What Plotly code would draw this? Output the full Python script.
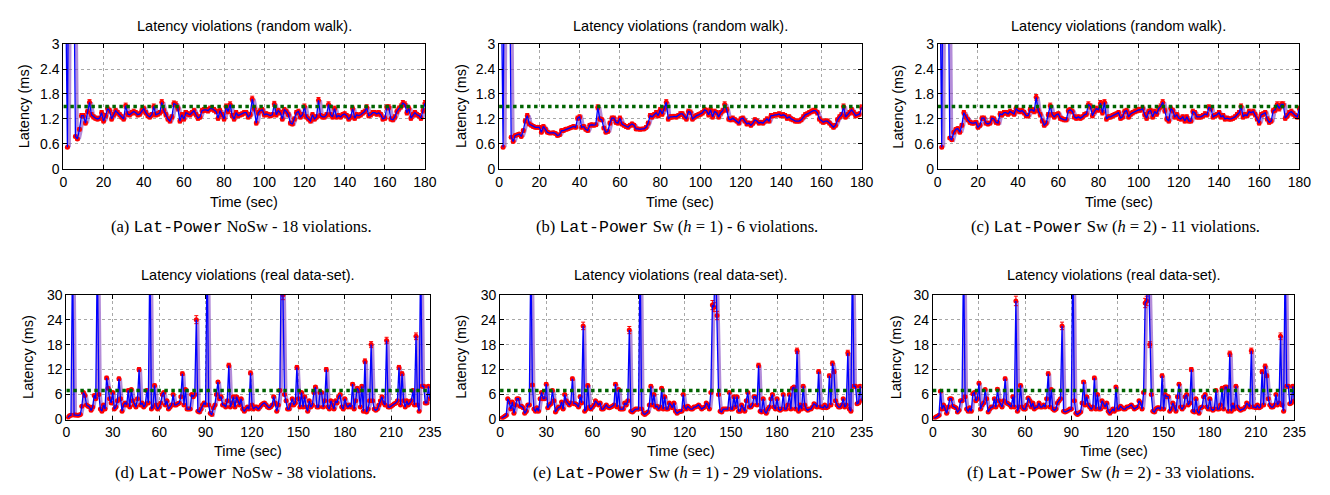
import plotly.graph_objects as go

# ---------------- data ----------------
time_rw = list(range(1, 181))      # seconds, random-walk experiments
time_real = list(range(1, 236))    # seconds, real data-set experiments

lat_a = [5.0, 0.52, 9.0, 9.0, 6.0, 0.78, 0.72, 0.95, 1.28, 1.28,
         1.10, 1.38, 1.60, 1.30, 1.25, 1.22, 1.20, 1.22, 1.35, 1.15,
         1.28, 1.45, 1.40, 1.20, 1.30, 1.40, 1.35, 1.30, 1.25, 1.20,
         1.52, 1.32, 1.30, 1.35, 1.38, 1.35, 1.30, 1.32, 1.40, 1.45,
         1.35, 1.28, 1.25, 1.30, 1.50, 1.30, 1.32, 1.35, 1.60, 1.40,
         1.30, 1.20, 1.15, 1.25, 1.57, 1.55, 1.45, 1.15, 1.30, 1.20,
         1.35, 1.32, 1.30, 1.35, 1.40, 1.30, 1.22, 1.25, 1.40, 1.42,
         1.42, 1.40, 1.45, 1.45, 1.42, 1.38, 1.22, 1.40, 1.30, 1.20,
         1.50, 1.38, 1.55, 1.28, 1.20, 1.35, 1.28, 1.30, 1.32, 1.35,
         1.35, 1.25, 1.30, 1.68, 1.45, 1.10, 1.35, 1.40, 1.42, 1.30,
         1.32, 1.30, 1.28, 1.30, 1.56, 1.30, 1.40, 1.35, 1.20, 1.42,
         1.38, 1.30, 1.10, 1.08, 1.20, 1.35, 1.38, 1.25, 1.30, 1.50,
         1.25, 1.20, 1.15, 1.30, 1.20, 1.25, 1.65, 1.28, 1.25, 1.25,
         1.30, 1.55, 1.30, 1.25, 1.45, 1.25, 1.28, 1.25, 1.30, 1.32,
         1.28, 1.20, 1.25, 1.45, 1.22, 1.30, 1.28, 1.30, 1.35, 1.38,
         1.48, 1.28, 1.30, 1.35, 1.35, 1.32, 1.35, 1.30, 1.20, 1.22,
         1.48, 1.48, 1.20, 1.18, 1.25, 1.38, 1.45, 1.50, 1.58, 1.55,
         1.35, 1.45, 1.22, 1.30, 1.35, 1.30, 1.28, 1.22, 1.40, 1.58]

lat_b = [5.0, 0.52, 9.0, 9.0, 6.0, 0.76, 0.66, 0.80, 0.82, 0.84,
         0.78, 0.92, 1.15, 1.28, 1.08, 1.05, 1.02, 1.00, 1.00, 1.00,
         0.88, 1.02, 0.95, 0.88, 0.86, 0.86, 0.87, 0.85, 0.80, 0.82,
         0.92, 0.92, 0.95, 0.96, 0.98, 1.00, 1.02, 1.00, 1.22, 1.25,
         1.00, 1.02, 0.95, 0.92, 1.05, 1.06, 1.05, 1.06, 1.48, 1.20,
         1.18, 0.98, 0.88, 0.90, 1.10, 1.22, 1.22, 1.12, 1.10, 1.22,
         1.08, 1.05, 1.02, 1.00, 1.05, 1.08, 1.05, 0.96, 0.96, 0.95,
         0.96, 0.96, 1.00, 1.10, 1.28, 1.25, 1.30, 1.35, 1.28, 1.42,
         1.32, 1.45, 1.60, 1.20, 1.25, 1.25, 1.26, 1.25, 1.28, 1.32,
         1.32, 1.25, 1.20, 1.38, 1.36, 1.20, 1.25, 1.28, 1.30, 1.32,
         1.35, 1.42, 1.40, 1.30, 1.42, 1.25, 1.38, 1.35, 1.25, 1.35,
         1.40, 1.55, 1.42, 1.20, 1.18, 1.22, 1.18, 1.15, 1.10, 1.20,
         1.22, 1.15, 1.08, 1.10, 1.05, 1.10, 1.18, 1.15, 1.10, 1.12,
         1.10, 1.15, 1.20, 1.15, 1.28, 1.28, 1.30, 1.30, 1.32, 1.28,
         1.30, 1.28, 1.22, 1.25, 1.20, 1.18, 1.15, 1.15, 1.15, 1.18,
         1.25, 1.30, 1.32, 1.35, 1.38, 1.40, 1.40, 1.35, 1.20, 1.15,
         1.12, 1.15, 1.15, 1.10, 1.05, 1.00, 1.05, 1.18, 1.25, 1.30,
         1.50, 1.25, 1.30, 1.35, 1.42, 1.35, 1.28, 1.30, 1.32, 1.48]

lat_c = [5.0, 0.52, 9.0, 9.0, 6.0, 0.74, 0.70, 0.88, 0.95, 0.97,
         0.88, 1.05, 1.35, 1.25, 1.18, 1.12, 1.10, 1.10, 1.12, 1.00,
         1.05, 1.22, 1.22, 1.10, 1.08, 1.10, 1.22, 1.20, 1.12, 1.10,
         1.32, 1.30, 1.35, 1.35, 1.32, 1.38, 1.35, 1.32, 1.45, 1.40,
         1.38, 1.40, 1.35, 1.28, 1.28, 1.42, 1.42, 1.38, 1.72, 1.40,
         1.30, 1.15, 1.05, 1.10, 1.30, 1.52, 1.30, 1.25, 1.30, 1.32,
         1.22, 1.20, 1.18, 1.18, 1.40, 1.42, 1.38, 1.25, 1.22, 1.25,
         1.22, 1.25, 1.30, 1.32, 1.55, 1.50, 1.28, 1.38, 1.45, 1.42,
         1.58, 1.35, 1.60, 1.20, 1.25, 1.25, 1.28, 1.30, 1.32, 1.35,
         1.22, 1.25, 1.38, 1.40, 1.25, 1.32, 1.35, 1.38, 1.40, 1.42,
         1.42, 1.45, 1.30, 1.22, 1.38, 1.40, 1.25, 1.38, 1.32, 1.45,
         1.50, 1.60, 1.40, 1.20, 1.15, 1.45, 1.40, 1.25, 1.30, 1.22,
         1.20, 1.25, 1.15, 1.25, 1.15, 1.15, 1.38, 1.35, 1.25, 1.25,
         1.25, 1.28, 1.32, 1.30, 1.48, 1.45, 1.25, 1.28, 1.30, 1.35,
         1.25, 1.28, 1.20, 1.22, 1.20, 1.20, 1.22, 1.25, 1.30, 1.35,
         1.50, 1.25, 1.30, 1.28, 1.38, 1.35, 1.38, 1.30, 1.20, 1.10,
         1.30, 1.32, 1.35, 1.20, 1.12, 1.15, 1.40, 1.42, 1.55, 1.45,
         1.55, 1.55, 1.22, 1.28, 1.35, 1.38, 1.32, 1.28, 1.25, 1.45]

lat_d = [0.5, 0.9, 1.0, 40, 1.1, 1.1, 1.0, 1.0, 1.2, 3.2,
         6.5, 5.8, 3.5, 3.2, 3.0, 2.2, 3.0, 5.8, 5.0, 40,
         6.0, 2.5, 2.0, 3.5, 2.5, 10.0, 7.5, 5.0, 4.0, 6.5,
         2.5, 3.0, 4.5, 9.8, 5.0, 2.0, 3.5, 4.0, 3.5, 7.0,
         3.0, 7.2, 4.5, 3.5, 3.0, 5.0, 12.0, 3.5, 4.0, 3.0,
         3.5, 7.0, 4.0, 40, 2.5, 3.0, 8.2, 3.5, 2.5, 3.0,
         4.0, 6.0, 6.5, 3.5, 4.5, 2.5, 3.0, 3.5, 6.0, 3.5,
         3.5, 3.8, 4.0, 5.5, 11.0, 3.5, 7.2, 2.5, 2.5, 2.5,
         6.0, 5.5, 6.0, 24.0, 2.0, 1.8, 2.5, 3.5, 4.0, 3.5,
         40, 3.5, 1.5, 1.2, 2.8, 3.5, 6.0, 9.0, 5.0, 5.5,
         3.5, 3.5, 3.0, 4.5, 13.0, 3.0, 4.0, 5.5, 3.0, 5.5,
         4.5, 3.5, 5.0, 2.5, 2.0, 2.5, 3.0, 2.5, 11.2, 3.5,
         2.5, 3.0, 3.0, 2.5, 3.0, 3.5, 3.8, 4.0, 3.5, 3.0,
         2.8, 3.0, 3.5, 5.5, 4.0, 2.0, 3.5, 7.0, 40, 30.0,
         6.0, 4.5, 2.5, 2.5, 3.5, 5.0, 3.5, 4.0, 12.5, 5.0,
         3.0, 6.5, 3.0, 5.5, 3.0, 2.0, 4.5, 3.0, 3.5, 6.5,
         7.8, 3.0, 3.0, 6.5, 6.5, 3.0, 4.5, 12.0, 3.0, 2.5,
         4.5, 3.5, 2.5, 4.5, 4.0, 5.5, 6.0, 3.0, 2.5, 5.0,
         3.5, 3.0, 3.5, 3.0, 8.5, 2.5, 4.5, 7.5, 7.0, 3.0,
         8.0, 2.0, 14.0, 1.8, 2.5, 4.5, 18.0, 4.5, 2.5, 2.2,
         2.5, 3.5, 4.5, 5.5, 4.0, 3.5, 19.0, 3.0, 3.0, 3.2,
         3.5, 3.8, 4.0, 4.5, 12.5, 3.5, 11.0, 4.5, 3.0, 4.5,
         3.5, 4.0, 4.5, 7.0, 3.5, 20.0, 3.5, 2.0, 40, 8.0,
         8.0, 4.0, 4.0, 8.0, 5.0]

lat_e = [0.3, 0.5, 0.8, 1.0, 5.0, 4.2, 2.5, 4.2, 1.5, 3.5,
         5.0, 5.0, 3.2, 3.2, 2.8, 1.5, 2.0, 3.5, 3.5, 40,
         8.3, 2.5, 2.0, 2.8, 2.0, 5.0, 6.5, 5.0, 5.0, 8.5,
         2.8, 3.5, 3.8, 7.0, 4.5, 1.8, 2.5, 3.0, 3.0, 4.2,
         2.5, 6.0, 4.5, 4.0, 3.5, 4.0, 9.8, 3.8, 3.8, 3.5,
         3.0, 5.5, 4.0, 22.5, 2.0, 2.5, 8.2, 3.0, 2.5, 3.0,
         3.5, 4.5, 4.0, 3.5, 4.0, 2.5, 2.5, 3.0, 3.5, 3.0,
         2.8, 3.0, 3.2, 3.5, 8.5, 3.0, 7.2, 2.5, 2.5, 2.5,
         4.0, 3.5, 4.5, 21.5, 2.0, 1.8, 2.2, 2.5, 2.5, 2.5,
         40, 2.5, 1.5, 1.2, 1.5, 1.8, 3.5, 8.0, 3.5, 6.0,
         3.0, 3.2, 2.5, 3.0, 7.5, 2.5, 5.5, 2.5, 2.5, 4.0,
         3.5, 2.8, 4.0, 2.0, 1.5, 1.8, 2.0, 2.0, 6.0, 3.0,
         2.5, 3.2, 2.8, 2.5, 2.5, 3.0, 3.0, 3.2, 3.5, 3.0,
         2.5, 2.8, 3.0, 4.0, 3.5, 2.5, 6.5, 27.5, 27.0, 40,
         25.0, 6.0, 2.0, 1.8, 2.5, 2.5, 2.5, 2.5, 6.5, 2.5,
         2.5, 5.5, 3.0, 5.5, 2.0, 2.0, 3.5, 2.5, 2.0, 4.5,
         6.5, 3.0, 3.0, 3.5, 5.5, 5.5, 3.5, 13.0, 2.0, 1.8,
         5.0, 2.0, 1.5, 2.5, 3.0, 5.0, 6.0, 3.0, 2.5, 5.0,
         2.5, 2.2, 2.5, 6.0, 2.5, 2.5, 3.5, 6.0, 2.5, 7.5,
         7.8, 2.5, 16.5, 2.0, 3.5, 2.5, 8.0, 3.5, 2.5, 2.2,
         2.5, 2.5, 3.0, 3.8, 3.5, 3.0, 11.5, 3.0, 3.0, 2.8,
         3.5, 2.8, 3.0, 10.5, 3.5, 13.5, 11.5, 4.5, 3.5, 3.0,
         3.0, 3.5, 5.0, 3.0, 3.5, 16.0, 2.5, 2.0, 40, 8.0,
         8.0, 3.8, 4.0, 8.0, 4.5]

lat_f = [0.3, 0.6, 0.8, 1.0, 6.8, 2.5, 3.5, 2.5, 1.5, 3.0,
         5.0, 5.0, 3.2, 3.0, 2.8, 1.8, 2.2, 4.5, 4.5, 40,
         5.5, 2.5, 2.0, 2.8, 2.0, 6.2, 6.5, 4.5, 5.0, 8.7,
         2.5, 3.5, 4.0, 7.2, 5.0, 1.8, 2.5, 3.0, 3.0, 5.0,
         3.0, 7.3, 4.5, 3.5, 3.0, 4.5, 9.8, 4.0, 3.8, 3.5,
         3.0, 5.5, 3.0, 28.5, 2.0, 3.0, 8.2, 3.0, 2.5, 2.5,
         3.5, 5.2, 4.5, 3.0, 4.0, 2.5, 3.0, 3.0, 4.0, 3.0,
         3.0, 3.5, 3.0, 5.0, 11.0, 3.0, 7.2, 2.5, 2.2, 2.5,
         4.0, 4.5, 5.0, 22.5, 2.0, 1.8, 2.0, 2.2, 2.5, 2.5,
         40, 4.5, 1.5, 1.2, 1.5, 1.8, 4.0, 9.0, 3.5, 5.5,
         3.5, 3.0, 2.5, 3.0, 10.0, 2.5, 6.0, 2.5, 2.5, 4.5,
         3.5, 3.0, 4.0, 2.0, 1.5, 2.0, 2.5, 2.0, 7.8, 2.5,
         2.5, 3.2, 2.8, 2.5, 2.5, 3.0, 3.0, 3.2, 3.5, 3.0,
         2.5, 2.8, 3.0, 4.5, 4.0, 2.5, 6.5, 28.0, 28.5, 40,
         18.0, 6.0, 2.0, 1.8, 2.5, 2.8, 2.8, 2.5, 10.5, 2.5,
         6.0, 5.5, 5.5, 2.0, 2.5, 4.0, 3.0, 2.0, 5.5, 8.5,
         3.0, 2.5, 3.0, 5.5, 6.0, 3.5, 4.0, 12.0, 2.0, 1.8,
         5.0, 2.0, 1.5, 2.8, 3.0, 5.5, 6.0, 3.0, 2.5, 5.0,
         2.5, 2.2, 2.5, 7.0, 2.5, 2.5, 3.5, 7.5, 2.5, 7.8,
         7.8, 2.0, 15.8, 2.0, 3.5, 2.5, 8.0, 3.0, 2.5, 2.2,
         2.5, 2.5, 3.0, 4.0, 3.5, 3.0, 16.5, 3.0, 3.0, 2.8,
         3.5, 2.8, 3.0, 11.5, 3.5, 12.8, 10.5, 5.0, 3.5, 3.0,
         3.0, 3.5, 6.0, 3.5, 4.0, 20.0, 3.5, 2.0, 40, 8.0,
         8.0, 3.8, 4.0, 8.0, 4.5]

thr_rw = 1.5      # latency bound, ms
thr_real = 7.0

ticks_rw_x = [0, 20, 40, 60, 80, 100, 120, 140, 160, 180]
ticks_rw_y = [0, 0.6, 1.2, 1.8, 2.4, 3]
ticks_real_x = [0, 30, 60, 90, 120, 150, 180, 210, 235]
ticks_real_y = [0, 6, 12, 18, 24, 30]

title_rw = "Latency violations (random walk)."
title_real = "Latency violations (real data-set)."
MONO = "<span style='font-family:\"Liberation Mono\", \"Courier New\", monospace'>Lat-Power</span>"
captions = [
    "(a) " + MONO + " NoSw - 18 violations.",
    "(b) " + MONO + " Sw (<i>h</i> = 1) - 6 violations.",
    "(c) " + MONO + " Sw (<i>h</i> = 2) - 11 violations.",
    "(d) " + MONO + " NoSw - 38 violations.",
    "(e) " + MONO + " Sw (<i>h</i> = 1) - 29 violations.",
    "(f) " + MONO + " Sw (<i>h</i> = 2) - 33 violations.",
]

for arr in (lat_a, lat_b, lat_c):
    assert len(arr) == len(time_rw), len(arr)
for arr in (lat_d, lat_e, lat_f):
    assert len(arr) == len(time_real), len(arr)

# ---------------- layout geometry (pixels) ----------------
W, H = 1330, 495
panels = [
    dict(x=time_rw, y=lat_a, thr=thr_rw, xr=[0, 180], yr=[0, 3], xt=ticks_rw_x, yt=ticks_rw_y,
         px=(52, 418), py=(29, 158), ylab_x=13, title=title_rw),
    dict(x=time_rw, y=lat_b, thr=thr_rw, xr=[0, 180], yr=[0, 3], xt=ticks_rw_x, yt=ticks_rw_y,
         px=(493, 860), py=(29, 158), ylab_x=455, title=title_rw),
    dict(x=time_rw, y=lat_c, thr=thr_rw, xr=[0, 180], yr=[0, 3], xt=ticks_rw_x, yt=ticks_rw_y,
         px=(937, 1303), py=(29, 158), ylab_x=897, title=title_rw),
    dict(x=time_real, y=lat_d, thr=thr_real, xr=[0, 235], yr=[0, 30], xt=ticks_real_x, yt=ticks_real_y,
         px=(55, 423), py=(288, 417), ylab_x=16, title=title_real),
    dict(x=time_real, y=lat_e, thr=thr_real, xr=[0, 235], yr=[0, 30], xt=ticks_real_x, yt=ticks_real_y,
         px=(494, 860), py=(288, 417), ylab_x=455, title=title_real),
    dict(x=time_real, y=lat_f, thr=thr_real, xr=[0, 235], yr=[0, 30], xt=ticks_real_x, yt=ticks_real_y,
         px=(932, 1298), py=(288, 417), ylab_x=895, title=title_real),
]

SANS = "Liberation Sans, Arial, sans-serif"
SERIF = "Liberation Serif, Times New Roman, serif"

fig = go.Figure()
layout = dict(width=W, height=H, margin=dict(l=0, r=0, t=0, b=0),
              paper_bgcolor="white", plot_bgcolor="white", showlegend=False,
              font=dict(family=SANS, size=14, color="black"))
annotations = []

for i, p in enumerate(panels):
    k = "" if i == 0 else str(i + 1)
    xa, ya = "x" + k, "y" + k
    vals = p["y"]
    lagged = [vals[0]] + vals[:-1]   # purple (delayed) trace
    fig.add_trace(go.Scatter(x=p["x"], y=lagged, xaxis=xa, yaxis=ya, mode="lines",
                             line=dict(color="rgba(128,64,190,0.6)", width=3),
                             hoverinfo="skip"))
    fig.add_trace(go.Scatter(x=p["x"], y=vals, xaxis=xa, yaxis=ya, mode="markers",
                             marker=dict(color="red", size=5, line=dict(width=0)),
                             error_y=dict(type="percent", value=4, color="red",
                                          thickness=1, width=2),
                             cliponaxis=True))
    fig.add_trace(go.Scatter(x=p["x"], y=vals, xaxis=xa, yaxis=ya, mode="lines",
                             line=dict(color="blue", width=1.3)))
    fig.add_trace(go.Scatter(x=p["xr"], y=[p["thr"], p["thr"]], xaxis=xa, yaxis=ya,
                             mode="lines", line=dict(color="#006400", width=3.5, dash="dot")))

    x0, x1 = p["px"]
    y0, y1 = p["py"]
    common = dict(showline=True, linecolor="black", linewidth=1, mirror="ticks",
                  ticks="inside", ticklen=4, tickcolor="black",
                  showgrid=True, gridcolor="#a8a8a8", griddash="dot", gridwidth=1,
                  zeroline=False, tickfont=dict(family=SANS, size=14))
    layout["xaxis" + k] = dict(domain=[x0 / W, x1 / W], range=p["xr"], tickvals=p["xt"],
                               anchor=ya, **common)
    layout["yaxis" + k] = dict(domain=[1 - y1 / H, 1 - y0 / H], range=p["yr"],
                               tickvals=p["yt"], ticktext=[f"{v:g}" for v in p["yt"]],
                               anchor=xa, **common)
    cx = (x0 + x1) / 2 / W
    top_row = i < 3
    annotations.append(dict(x=cx, y=1 - (10 if top_row else 268) / H, xref="paper", yref="paper",
                            text=p["title"], showarrow=False, xanchor="center", yanchor="middle",
                            font=dict(family=SANS, size=14.5)))
    annotations.append(dict(x=cx, y=1 - (192 if top_row else 450) / H, xref="paper", yref="paper",
                            text="Time (sec)", showarrow=False, xanchor="center", yanchor="middle",
                            font=dict(family=SANS, size=14.5)))
    annotations.append(dict(x=p["ylab_x"] / W, y=1 - (y0 + y1) / 2 / H, xref="paper", yref="paper",
                            text="Latency (ms)", textangle=-90, showarrow=False,
                            xanchor="center", yanchor="middle", font=dict(family=SANS, size=14.5)))
    annotations.append(dict(x=cx - 3 / W, y=1 - (218 if top_row else 472) / H, xref="paper",
                            yref="paper", text=captions[i], showarrow=False, xanchor="center",
                            yanchor="middle", font=dict(family=SERIF, size=16.5)))

layout["annotations"] = annotations
fig.update_layout(**layout)
fig.write_html("out.html")
